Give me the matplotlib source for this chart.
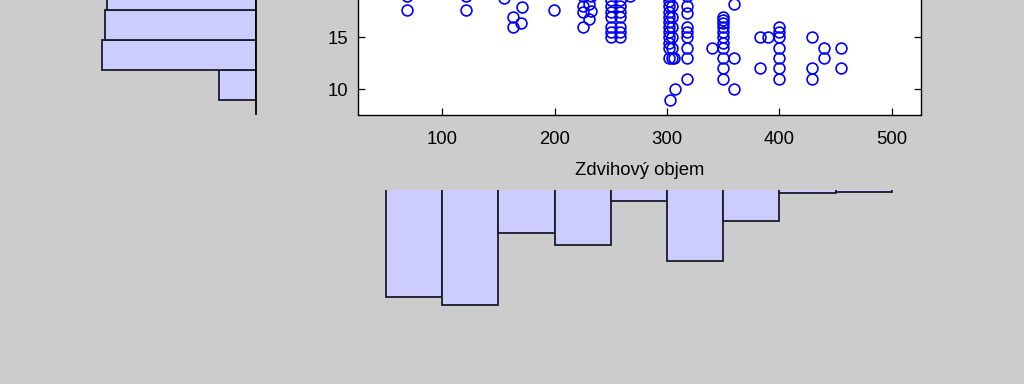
import numpy as np
import matplotlib.pyplot as plt

plt.rcParams['font.family'] = ['Liberation Sans', 'DejaVu Sans']

# scatter: zdvihovy objem (x) vs. spotreba / mpg (y), only the visible part
objem = [69, 69, 121, 121, 155, 171, 163, 170, 163, 199,
         225, 225, 225, 225, 231, 232, 231, 232,
         250, 250, 250, 250, 250, 250, 250,
         258, 258, 258, 258, 258, 258, 258, 267,
         302, 302, 302, 302, 302, 302, 302, 302, 302, 302, 302, 302,
         304, 304, 304, 304, 304, 304, 306, 307, 303,
         318, 318, 318, 318, 318, 318, 318, 318, 318,
         340,
         350, 350, 350, 350, 350, 350, 350, 350, 350, 350, 350,
         360, 360, 360,
         383, 383, 390,
         400, 400, 400, 400, 400, 400, 400,
         429, 429, 429, 440, 440, 455, 455]
spotreba = [17.7, 19, 17.7, 19, 18.8, 17.9, 17.0, 16.4, 16.0, 17.7,
            16, 17.5, 18, 19, 18.2, 17.6, 16.8, 19,
            15, 15.5, 16, 17, 17.5, 18, 18.6,
            15, 15.5, 16, 17, 17.5, 18, 18.6, 19,
            13, 14, 14.5, 15, 15.5, 16, 16.5, 17, 17.5, 18, 18.5, 19,
            13, 14, 15, 16, 17, 18, 13, 10, 9,
            19, 18, 17.4, 16, 15.5, 15, 14, 13, 11,
            14,
            17, 16.7, 16.4, 16, 15.5, 15, 14.5, 14, 13, 12, 11,
            18.2, 13, 10,
            15, 12, 15,
            16, 15.5, 15, 14, 13, 12, 11,
            15, 12, 11, 14, 13, 14, 12]

# histogram of x: bin edges and counts
objem_hrany = [50, 100, 150, 200, 250, 300, 350, 400, 450, 500]
objem_pocty = [98, 105, 40, 51, 11, 65, 29, 4, 3]

# histogram of y (lowest bins only, the rest is cut off)
spotreba_hrany = [9.0, 11.89, 14.78, 17.68, 20.57]
spotreba_pocty = [14, 58, 57, 56]

W, H = 1024, 384


def box(left, top, right, bottom):
    return [left / W, 1 - bottom / H, (right - left) / W, (bottom - top) / H]


gray = '#cccccc'
fill = '#ccccff'
fig = plt.figure(figsize=(W / 100, H / 100), dpi=100, facecolor=gray)

ylo, yhi = 7.55, 48
ax_top = 114.5 - (yhi - ylo) * 10.34

# main scatter
ax = fig.add_axes(box(358, ax_top, 921, 114.5))
ax.plot(objem, spotreba, 'o', mfc='none', mec='#0000ff', ms=7.8, mew=1.2)
ax.set_xlim(25, 526)
ax.set_ylim(ylo, yhi)
ax.set_xticks([100, 200, 300, 400, 500])
ax.set_yticks([10, 15])
ax.tick_params(direction='in', top=True, right=True, length=5, width=0.9,
               labelsize=13.3)
ax.tick_params(axis='x', pad=12)
ax.tick_params(axis='y', pad=7)
for s in ax.spines.values():
    s.set_linewidth(1.0)
ax.set_xlabel('Zdvihový objem', fontsize=13.3, labelpad=10)

# histogram on the left (horizontal bars, growing to the left)
axl = fig.add_axes(box(256 - 65 * 2.655, ax_top, 256, 114.5), sharey=ax)
axl.barh(spotreba_hrany[:-1], spotreba_pocty, height=np.diff(spotreba_hrany),
         align='edge', color=fill, edgecolor='#1a1a2a', linewidth=1.3)
axl.set_xlim(65, 0)
axl.set_facecolor('none')
for side in ['left', 'top', 'bottom']:
    axl.spines[side].set_visible(False)
axl.spines['right'].set_linewidth(1.3)
axl.tick_params(left=False, right=False, bottom=False, labelleft=False,
                labelbottom=False)

# histogram below (bars hanging down)
axb = fig.add_axes(box(358, 189.6, 921, 189.6 + 110 * 1.098), sharex=ax)
axb.bar(objem_hrany[:-1], objem_pocty, width=np.diff(objem_hrany),
        align='edge', color=fill, edgecolor='#1a1a2a', linewidth=1.3)
axb.set_ylim(110, 1)
axb.axis('off')

fig.savefig('out.png', dpi=100, facecolor=gray)
